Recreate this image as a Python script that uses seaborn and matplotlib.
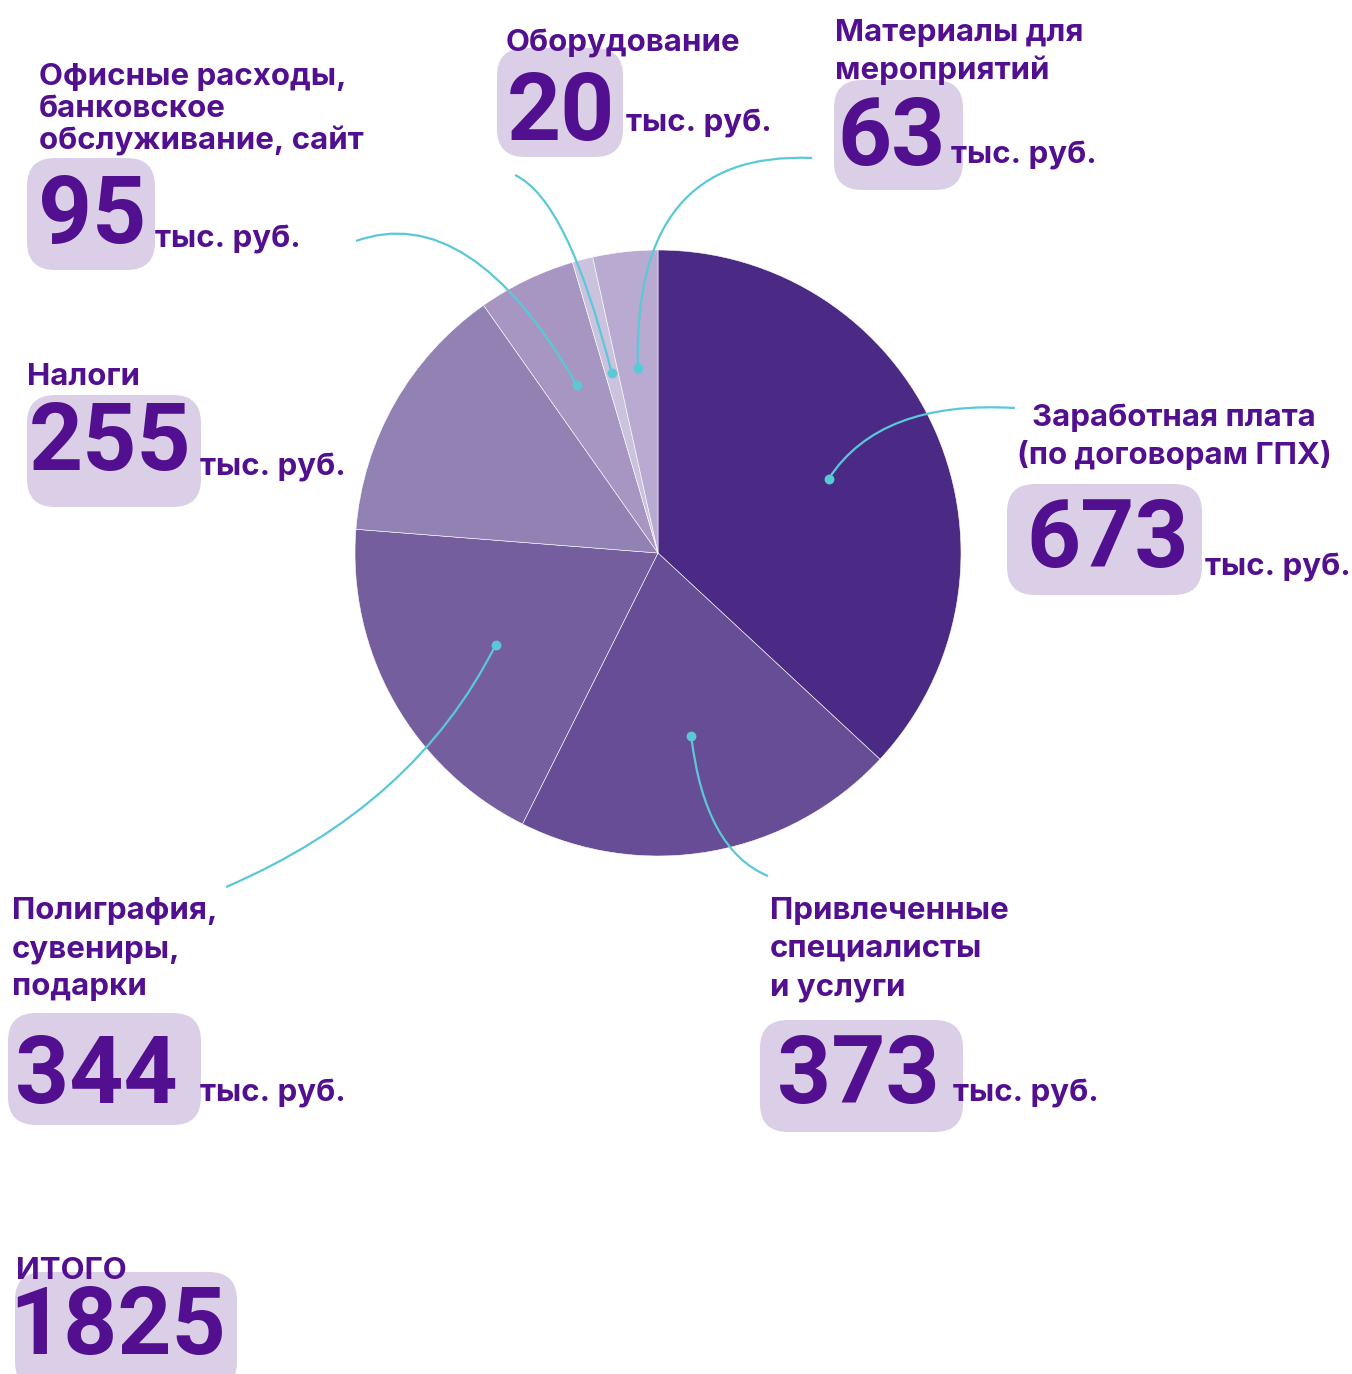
import matplotlib
matplotlib.use("Agg")
import matplotlib.pyplot as plt
import seaborn as sns
import numpy as np
from matplotlib.patches import FancyBboxPatch, PathPatch
from matplotlib.path import Path

sns.set_theme(style="white")
plt.rcParams["font.family"] = ["Inter", "DejaVu Sans"]

# --- data ---
categories = [
    "Заработная плата\n(по договорам ГПХ)",
    "Привлеченные\nспециалисты\nи услуги",
    "Полиграфия,\nсувениры,\nподарки",
    "Налоги",
    "Офисные расходы,\nбанковское\nобслуживание, сайт",
    "Оборудование",
    "Материалы для\nмероприятий",
]
values = [673, 373, 344, 255, 95, 20, 63]
unit = "тыс. руб."
total_label = "ИТОГО"
total_value = 1825
slice_colors = ["#4a2a84", "#674c96", "#745e9e", "#9281b3", "#a696c1", "#cbc3de", "#b9aad2"]

TEXT = "#520f8f"
BOX = "#dbcfe8"
LEAD = "#5bc8d8"

W, H = 1352, 1374


def Y(y):
    return H - y


# --- layout (pixel positions, y from top) ---
# label: (x, first baseline, line step, ha)
label_pos = [
    (1174, 426, 38, "center"),
    (770, 919, 38, "left"),
    (12, 919, 38, "left"),
    (27, 385, 32, "left"),
    (39, 85, 32, "left"),
    (506, 51, 38, "left"),
    (835, 41, 38, "left"),
]
# box: (x0, y0, x1, y1)
box_pos = [
    (1007, 484, 1202, 595),
    (760, 1020, 963, 1132),
    (8, 1013, 201, 1125),
    (27, 395, 201, 507),
    (27, 158, 155, 270),
    (497, 48, 623, 157),
    (834, 80, 963, 190),
]
num_pos = [(1108, 567), (858, 1103), (96, 1103), (110, 470), (92, 243), (561, 140), (892, 165)]
unit_pos = [(1205, 575), (953, 1102), (200, 1102), (200, 475), (155, 247), (626, 132), (951, 163)]
# leader: slice index -> (control point, end point)
leaders = {
    0: ((880, 400), (1015, 408)),
    1: ((705, 850), (768, 876)),
    2: ((415, 806), (226, 887)),
    4: ((470, 200), (356, 241)),
    5: ((568, 200), (515, 175)),
    6: ((632, 150), (812, 158)),
}

fig = plt.figure(figsize=(W / 100, H / 100), dpi=100)
ax = fig.add_axes([0, 0, 1, 1])

R = 303
cx, cy = 658, 553
wedges, _ = ax.pie(values, colors=slice_colors, startangle=90, counterclock=False,
                   radius=R, center=(cx, Y(cy)),
                   wedgeprops=dict(edgecolor="white", linewidth=0.4))

# leader lines with dots
for i, (ctrl, end) in leaders.items():
    w = wedges[i]
    mid = np.deg2rad((w.theta1 + w.theta2) / 2)
    sx = cx + 0.615 * R * np.cos(mid)
    sy = Y(cy) + 0.615 * R * np.sin(mid)
    path = Path([(sx, sy), (ctrl[0], Y(ctrl[1])), (end[0], Y(end[1]))],
                [Path.MOVETO, Path.CURVE3, Path.CURVE3])
    ax.add_patch(PathPatch(path, fill=False, edgecolor=LEAD, linewidth=1.6, zorder=3))
    ax.scatter([sx], [sy], s=50, color=LEAD, zorder=4, linewidths=0)


def num_box(x0, y0, x1, y1):
    ax.add_patch(FancyBboxPatch((x0, Y(y1)), x1 - x0, y1 - y0,
                                boxstyle="round,pad=0,rounding_size=28",
                                facecolor=BOX, edgecolor="none", zorder=1))


for i, cat in enumerate(categories):
    lx, lb, step, ha = label_pos[i]
    for k, line in enumerate(cat.split("\n")):
        ax.text(lx, Y(lb + k * step), line, ha=ha, va="baseline",
                fontsize=22.5, fontweight="bold", color=TEXT, zorder=5)
    num_box(*box_pos[i])
    nx, ny = num_pos[i]
    ax.text(nx, Y(ny), str(values[i]), ha="center", va="baseline",
            fontsize=68, fontweight="bold", color=TEXT, zorder=5,
            family=["Roboto", "DejaVu Sans"])
    ux, uy = unit_pos[i]
    ax.text(ux, Y(uy), unit, ha="left", va="baseline",
            fontsize=22.5, fontweight="bold", color=TEXT, zorder=5)

# total
num_box(15, 1272, 237, 1390)
ax.text(16, Y(1279), total_label, ha="left", va="baseline",
        fontsize=22.5, fontweight="bold", color=TEXT, zorder=5)
ax.text(118, Y(1373), str(total_value), ha="center", va="bottom",
        fontsize=68, fontweight="bold", color=TEXT, zorder=5,
        family=["Roboto", "DejaVu Sans"])

ax.set_xlim(0, W)
ax.set_ylim(0, H)
ax.axis("off")

fig.savefig("out.png", dpi=100, facecolor="white")
